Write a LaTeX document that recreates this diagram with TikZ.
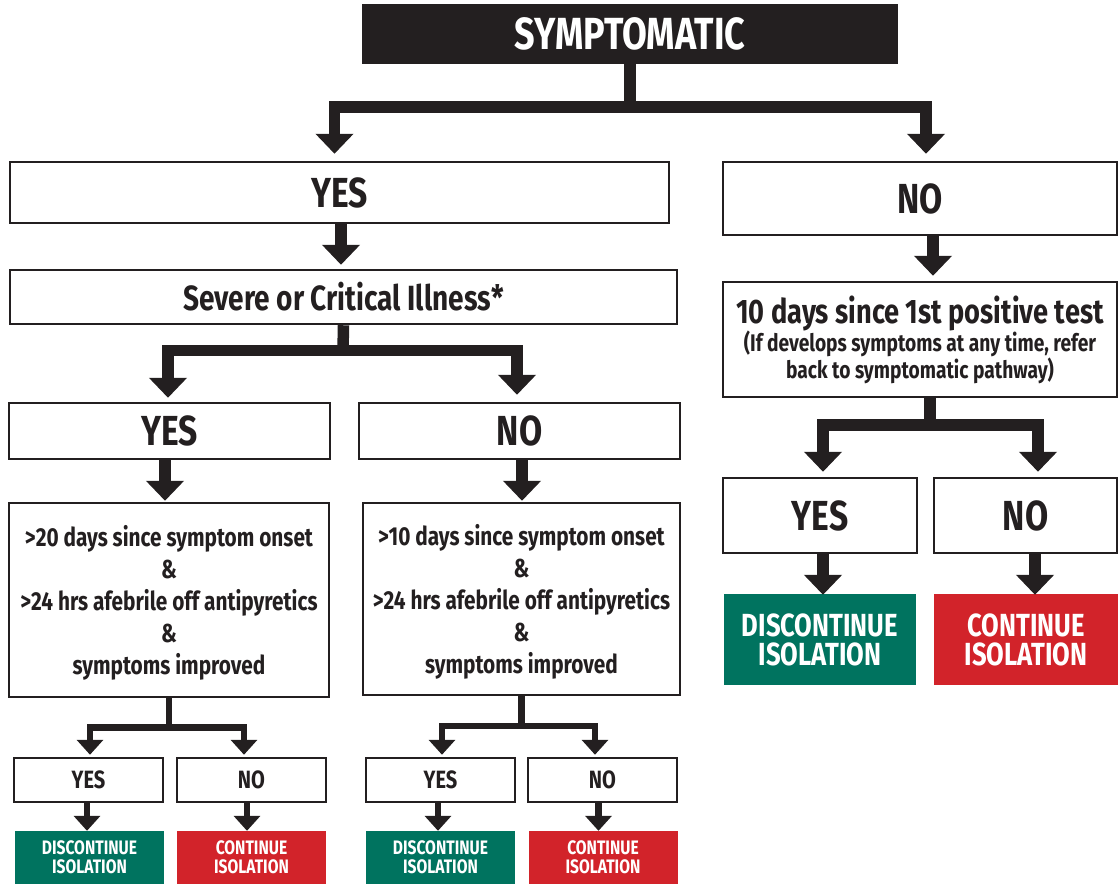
\documentclass[tikz,border=0pt]{standalone}
\usepackage{fontspec}
\setmainfont{Fira Sans}[FakeStretch=0.8]
\usetikzlibrary{arrows.meta,calc}
\definecolor{ink}{HTML}{231F20}
\definecolor{gr}{HTML}{00735F}
\definecolor{rd}{HTML}{D2232A}
\newcommand\myfs[2]{\fontsize{#1}{#2}\selectfont\bfseries}
\begin{document}
\begin{tikzpicture}[x=1pt,y=-1pt,line join=miter,
  box/.style={draw=ink,line width=2.5pt,fill=white,text=ink,inner sep=0pt,align=center},
  sz/.style 2 args={minimum width=#1pt,minimum height=#2pt},
  fillbox/.style={fill=#1,text=white,inner sep=0pt,align=center},
  big/.style={line width=11.5pt,draw=ink,-{Triangle[width=37pt,length=20pt]}},
  bar/.style={line width=11.5pt,draw=ink},
  sm/.style={line width=6.5pt,draw=ink,-{Triangle[width=26pt,length=15pt]}},
  smbar/.style={line width=6.5pt,draw=ink}
]
\useasboundingbox (0,0) rectangle (1118,884);
% nodes
\node[box,fill=ink,text=white,font=\myfs{45}{45},sz={534}{58}] (symp) at (630,34) {SYMPTOMATIC};
\node[box,font=\myfs{42}{42},sz={659}{61}] (yes1) at (339.5,192.5) {YES};
\node[box,font=\myfs{42}{42},sz={394}{73}] (no1) at (920,198.5) {NO};
\node[box,font=\myfs{35}{35},sz={667}{54}] (sev) at (343.5,297) {Severe or Critical Illness*};
\node[box,font=\myfs{42}{42},sz={321}{56}] (yes2) at (169.5,431) {YES};
\node[box,font=\myfs{42}{42},sz={321}{56}] (no2) at (519.5,431) {NO};
\node[box,font=\myfs{26}{32},text depth=-3pt,sz={320}{194}] (crit1) at (169,600) {>20 days since symptom onset\\\&\\>24 hrs afebrile off antipyretics\\\&\\symptoms improved};
\node[box,font=\myfs{26}{32},text depth=-3pt,sz={317}{192}] (crit2) at (521.5,599) {>10 days since symptom onset\\\&\\>24 hrs afebrile off antipyretics\\\&\\symptoms improved};
\node[box,font=\myfs{24}{23.5},sz={394}{115}] (ten) at (920,339.5) {\myfs{34}{34}10 days since 1st positive test\\[-1pt](If develops symptoms at any time, refer\\back to symptomatic pathway)};
\node[box,font=\myfs{42}{42},sz={194}{75}] (yes3) at (820,515.5) {YES};
\node[box,font=\myfs{42}{42},sz={183}{75}] (no3) at (1025.5,515.5) {NO};
\node[fillbox=gr,font=\myfs{32}{29},sz={192}{91}] (dis3) at (820,639.5) {DISCONTINUE\\ISOLATION};
\node[fillbox=rd,font=\myfs{32}{29},sz={184}{91}] (con3) at (1026,639.5) {CONTINUE\\ISOLATION};
\node[box,font=\myfs{25}{25},sz={149}{44}] (yes4a) at (88.5,780) {YES};
\node[box,font=\myfs{25}{25},sz={149}{44}] (no4a) at (251.5,780) {NO};
\node[box,font=\myfs{25}{25},sz={149}{44}] (yes4b) at (440.5,780) {YES};
\node[box,font=\myfs{25}{25},sz={149}{44}] (no4b) at (602.5,780) {NO};
\node[fillbox=gr,font=\myfs{19.5}{19},sz={149}{53}] (dis4a) at (89.5,857.5) {DISCONTINUE\\ISOLATION};
\node[fillbox=rd,font=\myfs{19.5}{19},sz={149}{53}] (con4a) at (251.5,857.5) {CONTINUE\\ISOLATION};
\node[fillbox=gr,font=\myfs{19.5}{19},sz={149}{53}] (dis4b) at (440.5,857.5) {DISCONTINUE\\ISOLATION};
\node[fillbox=rd,font=\myfs{19.5}{19},sz={149}{53}] (con4b) at (603,857.5) {CONTINUE\\ISOLATION};
% branch points
\coordinate (b1) at (630,107);
\coordinate (b2) at (343,350.5);
\coordinate (b3) at (169,727.5);
\coordinate (b4) at (521.5,726);
\coordinate (b5) at (930,425);
% top branch
\draw[bar] (symp.south) -- (b1);
\draw[big] (b1) -| ([xshift=-5pt,yshift=7pt]yes1.north);
\draw[big] (b1) -| ([xshift=6pt,yshift=7pt]no1.north);
% left column
\draw[big] ([xshift=1.5pt]yes1.south) -- ([xshift=-2.5pt,yshift=4pt]sev.north);
\draw[bar] (sev.south) -- (b2);
\draw[big] (b2) -| ([xshift=-1.5pt,yshift=4pt]yes2.north);
\draw[big] (b2) -| ([xshift=-2.5pt,yshift=7pt]no2.north);
\draw[big] ([xshift=-4.5pt]yes2.south) -- ([xshift=-4pt,yshift=1pt]crit1.north);
\draw[big] ([xshift=2.5pt]no2.south) -- ([xshift=0.5pt,yshift=1pt]crit2.north);
\draw[smbar] (crit1.south) -- (b3);
\draw[sm] (b3) -| ([xshift=1.5pt,yshift=2pt]yes4a.north);
\draw[sm] (b3) -| ([xshift=-7.5pt,yshift=2pt]no4a.north);
\draw[smbar] (crit2.south) -- (b4);
\draw[sm] (b4) -| ([xshift=1.5pt,yshift=2pt]yes4b.north);
\draw[sm] (b4) -| ([xshift=-7.5pt,yshift=2pt]no4b.north);
\draw[sm] ([xshift=-1.5pt]yes4a.south) -- ([xshift=-2.5pt]dis4a.north);
\draw[sm] ([xshift=-4.5pt]no4a.south) -- ([xshift=-4.5pt]con4a.north);
\draw[sm] ([xshift=-2.5pt]yes4b.south) -- ([xshift=-2.5pt]dis4b.north);
\draw[sm] ([xshift=-4pt]no4b.south) -- ([xshift=-4.5pt]con4b.north);
% right column
\draw[big] ([xshift=13pt]no1.south) -- ([xshift=13pt,yshift=5pt]ten.north);
\draw[bar] ([xshift=10pt]ten.south) -- (b5);
\draw[big] (b5) -| ([xshift=3pt,yshift=5pt]yes3.north);
\draw[big] (b5) -| ([xshift=12.5pt,yshift=5pt]no3.north);
\draw[big] ([xshift=3pt]yes3.south) -- ([xshift=3pt,yshift=-1pt]dis3.north);
\draw[big] ([xshift=9.5pt]no3.south) -- ([xshift=9pt,yshift=-1pt]con3.north);
\end{tikzpicture}
\end{document}
